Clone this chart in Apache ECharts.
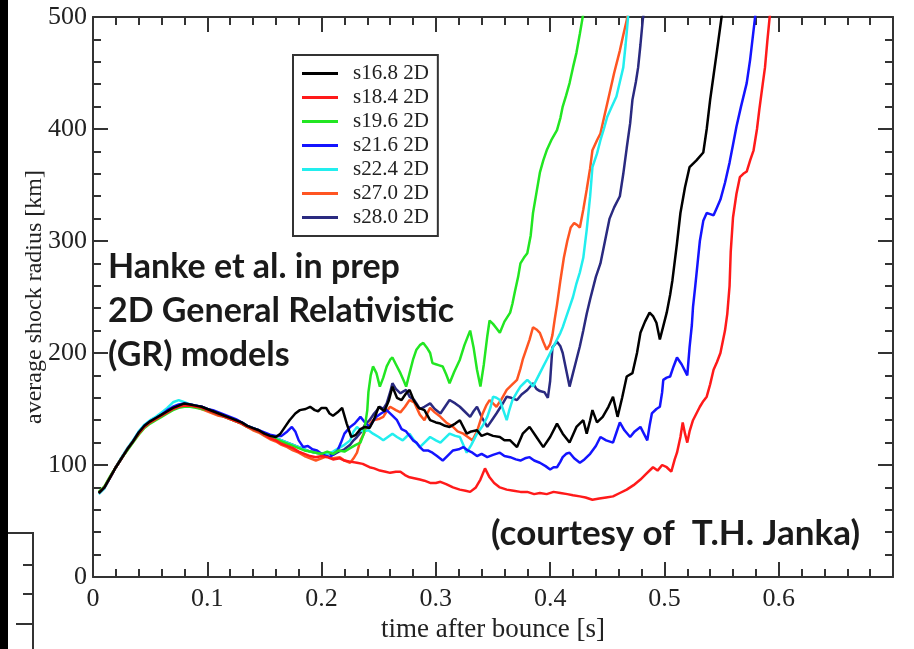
<!DOCTYPE html>
<html>
<head>
<meta charset="utf-8">
<script src="https://cdn.jsdelivr.net/npm/echarts@6/dist/echarts.min.js"></script>
<style>
html,body{margin:0;padding:0;background:#fff;}
#chart{width:914px;height:649px;}
</style>
</head>
<body>
<div id="chart"></div>
<script>
// ---- data: [time after bounce (s), average shock radius (km)] ----
const seriesNames = ['s16.8 2D','s18.4 2D','s19.6 2D','s21.6 2D','s22.4 2D','s27.0 2D','s28.0 2D'];
const xTicks = [0, 0.1, 0.2, 0.3, 0.4, 0.5, 0.6];
const yTicks = [0, 100, 200, 300, 400, 500];

const s168 = [[0.005,75],[0.01,80],[0.015,89],[0.02,98],[0.025,106],[0.03,114],[0.035,121],[0.04,129],[0.045,135],[0.05,139],[0.055,142],[0.06,145],[0.065,148],[0.07,151],[0.075,153],[0.08,155],[0.085,154],[0.09,153],[0.095,152],[0.1,150],[0.105,148],[0.11,146],[0.115,144],[0.12,142],[0.125,140],[0.13,138],[0.135,135],[0.14,133],[0.145,131],[0.15,128],[0.155,126],[0.16,125],[0.164,128],[0.168,134],[0.172,140],[0.177,146],[0.181,149],[0.186,150],[0.19,152],[0.194,149],[0.197,148],[0.2,151],[0.204,151],[0.207,146],[0.21,144],[0.214,147],[0.218,151],[0.222,137],[0.226,125],[0.23,127],[0.234,132],[0.238,134],[0.242,133],[0.246,141],[0.25,152],[0.255,148],[0.259,158],[0.262,170],[0.266,160],[0.27,158],[0.274,164],[0.277,167],[0.281,157],[0.285,151],[0.29,149],[0.295,140],[0.3,138],[0.304,137],[0.308,135],[0.312,134],[0.317,137],[0.321,140],[0.327,128],[0.331,130],[0.336,131],[0.34,126],[0.345,128],[0.35,126],[0.356,125],[0.36,122],[0.365,122],[0.371,116],[0.376,128],[0.382,134],[0.388,125],[0.394,116],[0.4,125],[0.406,137],[0.411,128],[0.417,120],[0.423,134],[0.429,140],[0.432,128],[0.435,140],[0.437,149],[0.441,138],[0.446,143],[0.451,152],[0.455,161],[0.459,143],[0.463,160],[0.467,179],[0.472,182],[0.476,200],[0.479,218],[0.483,228],[0.487,236],[0.49,233],[0.493,227],[0.496,212],[0.499,224],[0.502,236],[0.505,252],[0.507,265],[0.511,298],[0.514,325],[0.518,348],[0.522,366],[0.528,372],[0.534,379],[0.537,400],[0.54,426],[0.543,448],[0.546,470],[0.55,500],[0.552,515]];

const s184 = [[0.005,75],[0.01,80],[0.015,89],[0.02,98],[0.025,106],[0.03,114],[0.035,121],[0.04,128],[0.045,134],[0.05,138],[0.055,141],[0.06,144],[0.065,147],[0.07,150],[0.075,152],[0.08,153],[0.085,153],[0.09,152],[0.095,151],[0.1,149],[0.105,147],[0.11,145],[0.115,143],[0.12,141],[0.125,139],[0.13,137],[0.135,134],[0.14,132],[0.145,130],[0.15,127],[0.155,124],[0.16,122],[0.165,119],[0.17,117],[0.175,115],[0.18,112],[0.185,110],[0.19,108],[0.195,107],[0.2,108],[0.205,107],[0.21,105],[0.216,106],[0.22,104],[0.225,103],[0.231,102],[0.236,101],[0.242,98],[0.246,97],[0.251,95],[0.256,94],[0.26,93],[0.265,94],[0.269,94],[0.273,91],[0.277,89],[0.282,88],[0.286,87],[0.29,86],[0.295,84],[0.3,84],[0.304,85],[0.309,83],[0.315,80],[0.321,78],[0.326,77],[0.33,76],[0.335,80],[0.339,87],[0.343,97],[0.347,89],[0.351,84],[0.356,80],[0.362,78],[0.368,77],[0.374,76],[0.38,76],[0.386,74],[0.391,75],[0.397,74],[0.403,76],[0.409,75],[0.415,74],[0.42,73],[0.426,72],[0.431,71],[0.437,69],[0.443,70],[0.449,71],[0.455,72],[0.461,75],[0.467,78],[0.473,82],[0.479,87],[0.484,92],[0.49,98],[0.494,95],[0.498,100],[0.502,98],[0.506,94],[0.509,105],[0.511,111],[0.514,125],[0.516,138],[0.518,128],[0.52,120],[0.522,130],[0.525,140],[0.528,146],[0.531,152],[0.534,157],[0.537,161],[0.54,172],[0.543,185],[0.546,192],[0.549,200],[0.551,210],[0.553,220],[0.555,235],[0.557,260],[0.558,290],[0.56,321],[0.563,342],[0.566,357],[0.569,360],[0.572,362],[0.575,372],[0.578,381],[0.581,400],[0.583,417],[0.586,440],[0.588,455],[0.59,478],[0.592,499],[0.594,515]];

const s196 = [[0.005,76],[0.01,81],[0.015,90],[0.02,98],[0.025,106],[0.03,113],[0.035,120],[0.04,127],[0.045,133],[0.05,137],[0.055,140],[0.06,143],[0.065,146],[0.07,149],[0.075,151],[0.08,152],[0.085,152],[0.09,151],[0.095,150],[0.1,149],[0.105,147],[0.11,145],[0.115,143],[0.12,141],[0.125,139],[0.13,137],[0.135,134],[0.14,132],[0.145,130],[0.15,127],[0.155,125],[0.16,123],[0.165,121],[0.17,119],[0.175,117],[0.18,115],[0.185,113],[0.19,112],[0.195,111],[0.2,110],[0.205,112],[0.21,110],[0.215,113],[0.22,112],[0.225,115],[0.23,118],[0.234,120],[0.237,128],[0.24,149],[0.241,165],[0.243,180],[0.245,188],[0.248,182],[0.251,170],[0.254,178],[0.257,188],[0.26,194],[0.262,196],[0.265,190],[0.269,182],[0.272,175],[0.274,170],[0.277,182],[0.28,194],[0.283,203],[0.286,207],[0.289,209],[0.292,205],[0.295,200],[0.297,191],[0.3,190],[0.303,189],[0.306,188],[0.309,181],[0.312,173],[0.316,183],[0.321,194],[0.325,207],[0.33,220],[0.333,205],[0.336,185],[0.339,170],[0.342,190],[0.345,215],[0.347,229],[0.35,226],[0.353,222],[0.356,218],[0.36,228],[0.365,236],[0.367,244],[0.369,254],[0.372,268],[0.374,280],[0.377,285],[0.38,289],[0.383,305],[0.385,325],[0.388,343],[0.391,361],[0.394,372],[0.397,381],[0.401,390],[0.406,399],[0.409,410],[0.411,420],[0.414,430],[0.417,441],[0.42,455],[0.423,468],[0.426,485],[0.428,497],[0.43,510]];

const s216 = [[0.005,75],[0.01,80],[0.015,89],[0.02,98],[0.025,106],[0.03,114],[0.035,121],[0.04,129],[0.045,135],[0.05,139],[0.055,142],[0.06,145],[0.065,149],[0.07,152],[0.075,154],[0.08,155],[0.085,154],[0.09,153],[0.095,152],[0.1,150],[0.105,149],[0.11,147],[0.115,145],[0.12,143],[0.125,141],[0.13,138],[0.135,135],[0.14,133],[0.145,131],[0.15,129],[0.155,127],[0.16,126],[0.165,126],[0.17,130],[0.174,134],[0.177,130],[0.18,122],[0.184,116],[0.188,117],[0.192,114],[0.196,113],[0.2,110],[0.204,108],[0.207,107],[0.211,110],[0.214,113],[0.217,120],[0.22,128],[0.225,134],[0.229,137],[0.234,143],[0.238,138],[0.242,134],[0.245,139],[0.248,143],[0.252,146],[0.257,149],[0.262,144],[0.266,140],[0.27,132],[0.274,130],[0.28,122],[0.283,120],[0.286,116],[0.289,113],[0.293,113],[0.297,111],[0.301,108],[0.306,104],[0.31,108],[0.315,113],[0.32,114],[0.324,116],[0.328,113],[0.332,111],[0.336,108],[0.34,110],[0.345,107],[0.35,109],[0.356,111],[0.36,108],[0.365,107],[0.37,105],[0.374,104],[0.378,106],[0.382,107],[0.386,104],[0.391,102],[0.396,99],[0.4,96],[0.403,98],[0.406,98],[0.409,103],[0.411,107],[0.414,110],[0.417,111],[0.421,106],[0.426,102],[0.43,105],[0.435,110],[0.44,117],[0.444,125],[0.449,122],[0.455,120],[0.458,129],[0.461,138],[0.465,131],[0.47,125],[0.474,130],[0.479,134],[0.482,128],[0.485,122],[0.487,135],[0.489,146],[0.493,150],[0.496,152],[0.498,165],[0.499,176],[0.502,178],[0.505,179],[0.508,188],[0.511,196],[0.515,190],[0.518,184],[0.52,180],[0.522,205],[0.524,225],[0.525,241],[0.527,260],[0.529,280],[0.531,300],[0.534,318],[0.537,325],[0.54,324],[0.543,323],[0.546,330],[0.549,337],[0.553,352],[0.557,370],[0.56,386],[0.563,402],[0.567,420],[0.572,441],[0.575,462],[0.579,497],[0.581,515]];

const s224 = [[0.005,74],[0.01,79],[0.015,89],[0.02,98],[0.025,107],[0.03,115],[0.035,122],[0.04,130],[0.045,136],[0.05,140],[0.055,143],[0.06,147],[0.065,151],[0.07,156],[0.075,158],[0.08,156],[0.085,154],[0.09,153],[0.095,151],[0.1,150],[0.105,148],[0.11,146],[0.115,144],[0.12,142],[0.125,140],[0.13,138],[0.135,135],[0.14,133],[0.145,131],[0.15,128],[0.155,126],[0.16,124],[0.165,122],[0.17,120],[0.175,118],[0.18,116],[0.185,114],[0.19,112],[0.195,111],[0.2,110],[0.205,110],[0.21,112],[0.215,115],[0.22,118],[0.225,122],[0.228,130],[0.231,134],[0.234,131],[0.237,130],[0.241,131],[0.245,128],[0.25,125],[0.254,122],[0.258,125],[0.262,128],[0.266,125],[0.271,122],[0.274,125],[0.277,128],[0.281,122],[0.286,116],[0.29,120],[0.295,125],[0.3,122],[0.304,120],[0.308,124],[0.312,128],[0.317,126],[0.321,125],[0.324,118],[0.327,111],[0.331,118],[0.336,128],[0.341,135],[0.345,143],[0.348,152],[0.35,161],[0.353,160],[0.356,158],[0.359,149],[0.362,140],[0.364,148],[0.367,158],[0.371,165],[0.374,170],[0.377,173],[0.38,176],[0.383,173],[0.385,170],[0.39,180],[0.394,188],[0.397,194],[0.4,200],[0.403,206],[0.406,212],[0.409,218],[0.411,223],[0.414,232],[0.417,241],[0.42,250],[0.423,262],[0.426,272],[0.429,285],[0.432,310],[0.435,340],[0.437,366],[0.441,378],[0.444,390],[0.447,400],[0.45,411],[0.454,420],[0.458,429],[0.461,442],[0.464,455],[0.466,475],[0.467,486],[0.469,510]];

const s270 = [[0.005,75],[0.01,80],[0.015,89],[0.02,98],[0.025,106],[0.03,114],[0.035,121],[0.04,128],[0.045,134],[0.05,138],[0.055,141],[0.06,144],[0.065,147],[0.07,150],[0.075,152],[0.08,153],[0.085,153],[0.09,152],[0.095,150],[0.1,148],[0.105,146],[0.11,144],[0.115,143],[0.12,141],[0.125,139],[0.13,137],[0.135,134],[0.14,131],[0.145,129],[0.15,126],[0.155,123],[0.16,121],[0.165,118],[0.17,116],[0.175,113],[0.18,111],[0.185,108],[0.19,106],[0.195,104],[0.2,106],[0.205,108],[0.21,106],[0.216,107],[0.22,104],[0.225,102],[0.228,106],[0.231,111],[0.234,122],[0.237,128],[0.24,134],[0.245,140],[0.25,141],[0.254,143],[0.257,148],[0.26,152],[0.265,149],[0.269,147],[0.273,152],[0.277,158],[0.281,156],[0.286,145],[0.29,140],[0.293,147],[0.295,151],[0.299,147],[0.304,143],[0.309,138],[0.315,134],[0.319,130],[0.324,128],[0.328,125],[0.332,122],[0.336,130],[0.341,146],[0.344,153],[0.347,158],[0.35,155],[0.353,152],[0.357,158],[0.362,167],[0.366,171],[0.371,176],[0.374,186],[0.376,194],[0.379,203],[0.382,212],[0.385,223],[0.388,221],[0.391,218],[0.394,210],[0.397,203],[0.4,208],[0.402,216],[0.404,230],[0.406,243],[0.409,265],[0.412,285],[0.415,300],[0.418,312],[0.421,316],[0.424,314],[0.426,312],[0.429,328],[0.432,346],[0.435,365],[0.437,381],[0.441,390],[0.444,396],[0.448,414],[0.452,432],[0.456,450],[0.461,470],[0.464,484],[0.467,497],[0.469,512]];

const s280 = [[0.005,75],[0.01,80],[0.015,89],[0.02,98],[0.025,106],[0.03,114],[0.035,121],[0.04,129],[0.045,135],[0.05,139],[0.055,142],[0.06,145],[0.065,148],[0.07,151],[0.075,153],[0.08,155],[0.085,154],[0.09,153],[0.095,152],[0.1,150],[0.105,148],[0.11,146],[0.115,144],[0.12,142],[0.125,140],[0.13,138],[0.135,135],[0.14,133],[0.145,131],[0.15,128],[0.155,126],[0.16,124],[0.165,122],[0.17,120],[0.175,118],[0.18,116],[0.185,114],[0.19,112],[0.195,111],[0.2,110],[0.205,111],[0.21,109],[0.215,112],[0.22,114],[0.225,118],[0.228,122],[0.231,125],[0.235,130],[0.238,136],[0.242,140],[0.246,146],[0.251,152],[0.254,150],[0.257,155],[0.26,165],[0.262,173],[0.265,168],[0.269,164],[0.272,166],[0.274,167],[0.277,161],[0.281,158],[0.283,155],[0.286,150],[0.29,152],[0.295,155],[0.299,150],[0.304,146],[0.308,152],[0.312,158],[0.317,155],[0.321,152],[0.325,148],[0.33,143],[0.333,148],[0.336,152],[0.34,143],[0.345,134],[0.349,140],[0.353,146],[0.358,154],[0.362,161],[0.366,160],[0.371,158],[0.375,163],[0.38,167],[0.385,173],[0.388,168],[0.391,166],[0.395,165],[0.398,160],[0.4,175],[0.402,205],[0.406,210],[0.409,206],[0.411,200],[0.414,185],[0.417,170],[0.42,182],[0.423,194],[0.426,206],[0.429,220],[0.432,235],[0.435,248],[0.44,268],[0.444,280],[0.448,300],[0.452,320],[0.456,330],[0.461,340],[0.464,360],[0.467,383],[0.47,405],[0.472,426],[0.475,442],[0.477,455],[0.479,475],[0.481,497],[0.483,512]];

const seriesData = [s168, s184, s196, s216, s224, s270, s280];
const seriesColors = ['#000000', '#ff1a1a', '#22e622', '#1414ff', '#22eeee', '#ff5522', '#2a2a80'];

const annotation1 = ['Hanke et al. in prep', '2D General Relativistic', '(GR) models'];
const annotation2 = '(courtesy of  T.H. Janka)';

// ---- chart ----
const chart = echarts.init(document.getElementById('chart'), null, {renderer: 'canvas'});
const serif = 'Liberation Serif';
const axisCol = '#333';

function mkX(pos, labels) {
  return {
    type: 'value', position: pos, min: 0, max: 0.7, interval: 0.1,
    axisLine: {show: true, onZero: false, lineStyle: {color: axisCol, width: 2}},
    axisTick: {show: true, inside: true, length: 15, lineStyle: {color: axisCol, width: 2}},
    minorTick: {show: true, splitNumber: 5, length: 8, lineStyle: {color: axisCol, width: 2}},
    splitLine: {show: false},
    axisLabel: {show: labels, showMaxLabel: false, fontFamily: serif, fontSize: 26, color: '#222', margin: 9,
      formatter: v => (v === 0 ? '0' : v.toFixed(1))},
    name: labels ? 'time after bounce [s]' : '', nameLocation: 'middle', nameGap: 39,
    nameTextStyle: {fontFamily: serif, fontSize: 27, color: '#222'}
  };
}
function mkY(pos, labels) {
  return {
    type: 'value', position: pos, min: 0, max: 500, interval: 100,
    axisLine: {show: true, onZero: false, lineStyle: {color: axisCol, width: 2}},
    axisTick: {show: true, inside: true, length: 15, lineStyle: {color: axisCol, width: 2}},
    minorTick: {show: true, splitNumber: 5, length: 8, lineStyle: {color: axisCol, width: 2}},
    splitLine: {show: false},
    axisLabel: {show: labels, fontFamily: serif, fontSize: 26, color: '#222', margin: 6},
    name: labels ? 'average shock radius [km]' : '', nameLocation: 'middle', nameGap: 46,
    nameMoveOverlap: false,
    nameTextStyle: {fontFamily: serif, fontSize: 24, color: '#222'}
  };
}

const series = seriesNames.map((n, i) => ({
  name: n, type: 'line', xAxisIndex: 0, yAxisIndex: 0,
  data: seriesData[i], showSymbol: false, symbol: 'none', clip: true,
  lineStyle: {color: seriesColors[i], width: 2.5}, itemStyle: {color: seriesColors[i]},
  z: 10 - i, animation: false
}));

const option = {
  backgroundColor: '#ffffff',
  animation: false,
  grid: {left: 93, right: 21, top: 17, bottom: 72, containLabel: false},
  xAxis: [mkX('bottom', true), mkX('top', false)],
  yAxis: [mkY('left', true), mkY('right', false)],
  legend: {
    show: true, orient: 'vertical', left: 293, top: 55,
    data: seriesNames, icon: 'rect', itemWidth: 36, itemHeight: 3, itemGap: 3,
    borderColor: '#333', borderWidth: 2, padding: [8, 9, 8, 9], backgroundColor: '#fff',
    textStyle: {fontFamily: serif, fontSize: 21, color: '#222', lineHeight: 20, padding: [0, 0, 0, 10]},
    selectedMode: false
  },
  series: series,
  graphic: [
    {type: 'rect', left: 0, top: 0, shape: {width: 8, height: 649}, style: {fill: '#000'}, silent: true},
    {type: 'polyline', shape: {points: [[8, 533], [33, 533], [33, 649]]}, style: {stroke: '#333', lineWidth: 2, fill: null}, silent: true},
    {type: 'line', shape: {x1: 23, y1: 565, x2: 33, y2: 565}, style: {stroke: '#333', lineWidth: 2}, silent: true},
    {type: 'line', shape: {x1: 23, y1: 594, x2: 33, y2: 594}, style: {stroke: '#333', lineWidth: 2}, silent: true},
    {type: 'line', shape: {x1: 16, y1: 624, x2: 33, y2: 624}, style: {stroke: '#333', lineWidth: 2}, silent: true},
    {type: 'text', left: 108, top: 245, style: {text: annotation1.join('\n'), font: 'bold 34px Lato', fill: '#1a1a1a', lineHeight: 44}, z: 100},
    {type: 'text', left: 491, top: 516, style: {text: annotation2, font: 'bold 35px Lato', fill: '#1a1a1a'}, z: 100}
  ]
};
chart.setOption(option);
</script>
</body>
</html>
